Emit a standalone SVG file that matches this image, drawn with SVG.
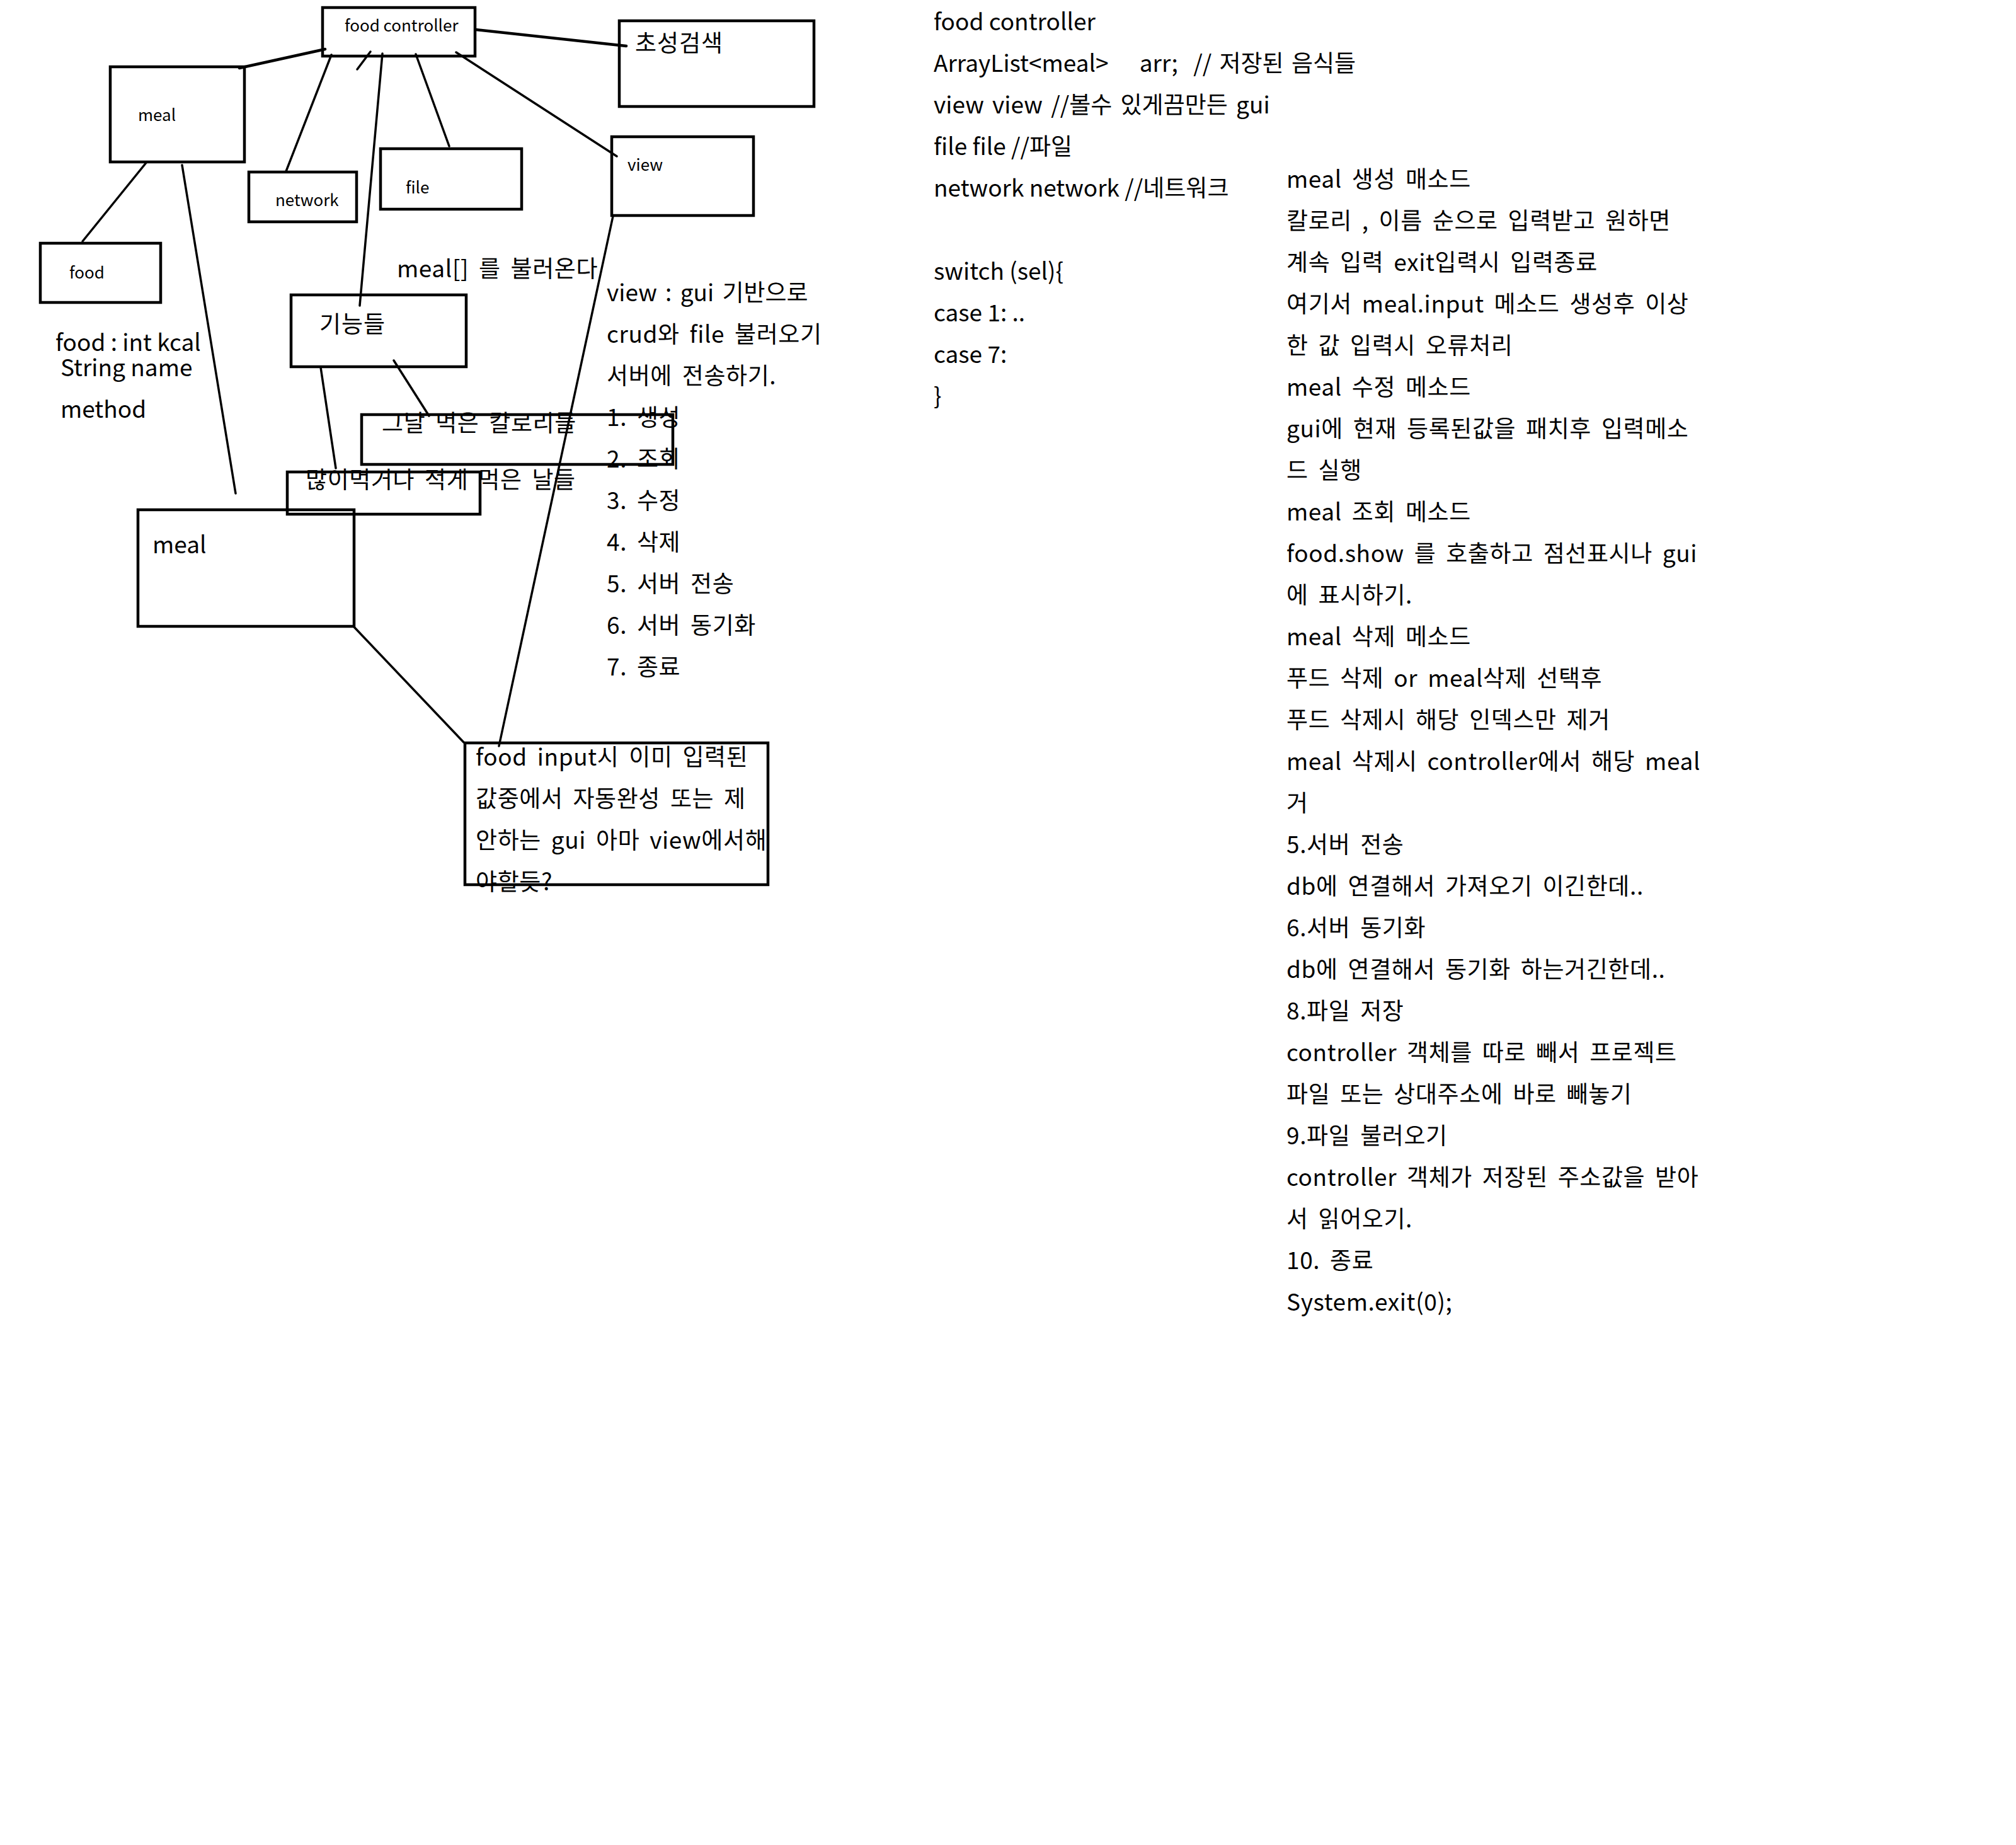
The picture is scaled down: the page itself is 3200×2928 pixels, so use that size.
<svg xmlns="http://www.w3.org/2000/svg" width="3200" height="2928" viewBox="0 0 3200 2928">
<style>
text{font-family:"Noto Sans CJK KR","Noto Sans",sans-serif;fill:#000}
.t{font-size:37px}
.t text{font-size:37px}
.s{font-size:26px}
.w{word-spacing:7px;letter-spacing:0.6px}
.ws{word-spacing:5px}
.box{fill:none;stroke:#000;stroke-width:4.5}
.ln{fill:none;stroke:#000;stroke-width:3.5;stroke-linecap:round}
.lt{stroke-width:4.5}
</style>
<rect width="3200" height="2928" fill="#fff"/>
<g id="connectors">
<line class="ln lt" x1="755" y1="47" x2="994" y2="73"/>
<line class="ln lt" x1="516" y1="78" x2="380" y2="108"/>
<line class="ln" x1="526" y1="87" x2="454" y2="272"/>
<line class="ln" x1="588" y1="82" x2="567" y2="110"/>
<line class="ln" x1="607" y1="85" x2="571" y2="485"/>
<line class="ln" x1="660" y1="86" x2="713" y2="232"/>
<line class="ln" x1="724" y1="83" x2="979" y2="248"/>
<line class="ln" x1="233" y1="257" x2="131" y2="383"/>
<line class="ln" x1="289" y1="262" x2="374" y2="783"/>
<line class="ln" x1="973" y1="343" x2="792" y2="1184"/>
<line class="ln" x1="509" y1="583" x2="533" y2="743"/>
<line class="ln" x1="625" y1="572" x2="681" y2="660"/>
<line class="ln" x1="562" y1="995" x2="736" y2="1178"/>
</g>
<g id="food-controller"><rect class="box" x="512" y="12" width="242" height="77"/><text class="s" x="547" y="50">food controller</text></g>
<g id="search"><rect class="box" x="983" y="33" width="309" height="136"/><text class="t" x="1008" y="82" letter-spacing="1">초성검색</text></g>
<g id="meal-small"><rect class="box" x="175" y="106" width="213" height="151"/><text class="s" x="219" y="192">meal</text></g>
<g id="network"><rect class="box" x="395" y="273" width="171" height="79"/><text class="s" x="437" y="327">network</text></g>
<g id="file"><rect class="box" x="604" y="236" width="224" height="96"/><text class="s" x="644" y="307">file</text></g>
<g id="view"><rect class="box" x="971" y="217" width="225" height="125"/><text class="s" x="996" y="271">view</text></g>
<g id="food"><rect class="box" x="64" y="386" width="191" height="94"/><text class="s" x="110" y="442">food</text></g>
<g id="food-note"><text class="t" x="88" y="557">food : int kcal</text><text class="t" x="96" y="597">String name</text><text class="t" x="96" y="663">method</text></g>
<g id="meal-load"><text class="t w" x="630" y="440">meal[] 를 불러온다</text></g>
<g id="functions"><rect class="box" x="462" y="468" width="278" height="114"/><text class="t" x="507" y="528" letter-spacing="1">기능들</text></g>
<g id="day-kcal"><rect class="box" x="574" y="658" width="494" height="79"/><text class="t w" x="606" y="685">그날 먹은 칼로리들</text></g>
<g id="days"><rect class="box" x="456" y="749" width="306" height="67"/><text class="t w" x="485" y="775">많이먹거나 적게 먹은 날들</text></g>
<g id="meal-big"><rect class="box" x="219" y="809" width="343" height="185"/><text class="t" x="242" y="878">meal</text></g>
<g id="food-input"><rect class="box" x="738" y="1179" width="481" height="225"/>
<text class="t w" x="755" y="1215">food input시 이미 입력된</text>
<text class="t w" x="755" y="1281">값중에서 자동완성 또는 제</text>
<text class="t w" x="755" y="1347">안하는 gui 아마 view에서해</text>
<text class="t w" x="755" y="1413">야할듯?</text></g>
<g id="view-note" class="t">
<text class="ws" x="963" y="478">view : gui 기반으로</text>
<text class="w" x="963" y="544">crud와 file 불러오기</text>
<text class="w" x="963" y="610">서버에 전송하기.</text>
<text class="w" x="963" y="676">1. 생성</text>
<text class="w" x="963" y="742">2. 조회</text>
<text class="w" x="963" y="808">3. 수정</text>
<text class="w" x="963" y="874">4. 삭제</text>
<text class="w" x="963" y="940">5. 서버 전송</text>
<text class="w" x="963" y="1006">6. 서버 동기화</text>
<text class="w" x="963" y="1072">7. 종료</text>
</g>
<g id="controller-note" class="t">
<text x="1482" y="48">food controller</text>
<text x="1482" y="114" xml:space="preserve" style="word-spacing:4px">ArrayList&lt;meal&gt;    arr;  // 저장된 음식들</text>
<text class="ws" x="1482" y="180">view view //볼수 있게끔만든 gui</text>
<text x="1482" y="246">file file //파일</text>
<text x="1482" y="312">network network //네트워크</text>
<text x="1482" y="444">switch (sel){</text>
<text x="1482" y="510">case 1: ..</text>
<text x="1482" y="576">case 7:</text>
<text x="1482" y="642">}</text>
</g>
<g id="method-note" class="t w">
<text x="2042" y="298">meal 생성 매소드</text>
<text x="2042" y="364">칼로리 , 이름 순으로 입력받고 원하면</text>
<text x="2042" y="430">계속 입력 exit입력시 입력종료</text>
<text x="2042" y="496">여기서 meal.input 메소드 생성후 이상</text>
<text x="2042" y="562">한 값 입력시 오류처리</text>
<text x="2042" y="628">meal 수정 메소드</text>
<text x="2042" y="694">gui에 현재 등록된값을 패치후 입력메소</text>
<text x="2042" y="760">드 실행</text>
<text x="2042" y="826">meal 조회 메소드</text>
<text x="2042" y="892">food.show 를 호출하고 점선표시나 gui</text>
<text x="2042" y="958">에 표시하기.</text>
<text x="2042" y="1024">meal 삭제 메소드</text>
<text x="2042" y="1090">푸드 삭제 or meal삭제 선택후</text>
<text x="2042" y="1156">푸드 삭제시 해당 인덱스만 제거</text>
<text x="2042" y="1222">meal 삭제시 controller에서 해당 meal</text>
<text x="2042" y="1288">거</text>
<text x="2042" y="1354">5.서버 전송</text>
<text x="2042" y="1420">db에 연결해서 가져오기 이긴한데..</text>
<text x="2042" y="1486">6.서버 동기화</text>
<text x="2042" y="1552">db에 연결해서 동기화 하는거긴한데..</text>
<text x="2042" y="1618">8.파일 저장</text>
<text x="2042" y="1684">controller 객체를 따로 빼서 프로젝트</text>
<text x="2042" y="1750">파일 또는 상대주소에 바로 빼놓기</text>
<text x="2042" y="1816">9.파일 불러오기</text>
<text x="2042" y="1882">controller 객체가 저장된 주소값을 받아</text>
<text x="2042" y="1948">서 읽어오기.</text>
<text x="2042" y="2014">10. 종료</text>
<text x="2042" y="2080">System.exit(0);</text>
</g>
</svg>
